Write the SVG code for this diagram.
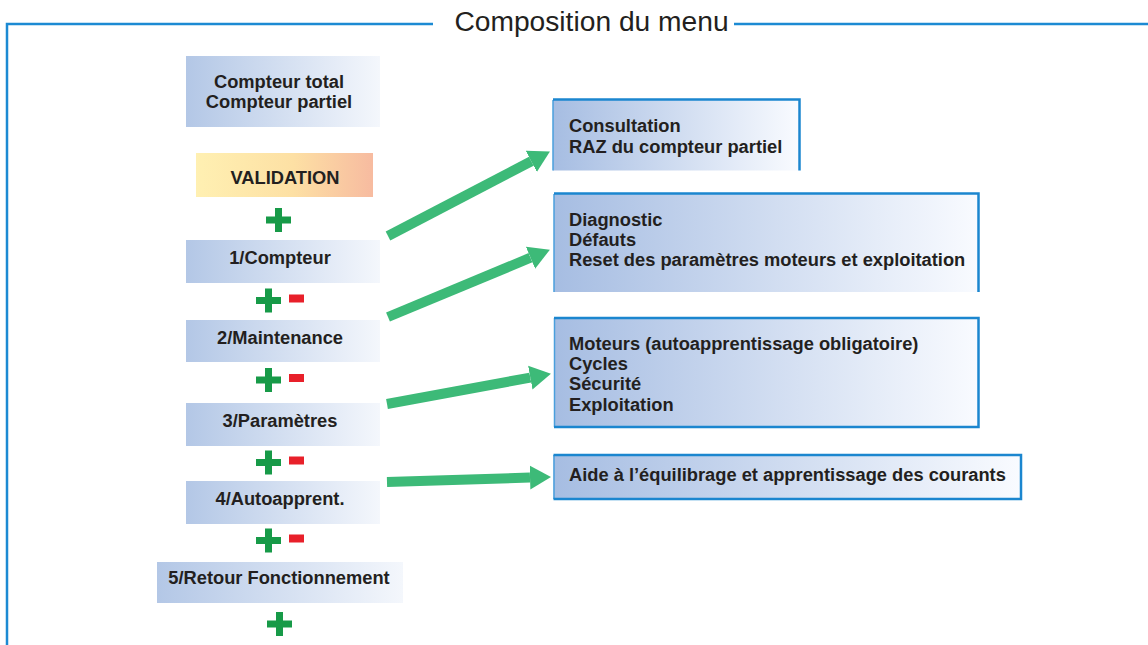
<svg xmlns="http://www.w3.org/2000/svg" width="1148" height="645" viewBox="0 0 1148 645">
<defs>
<linearGradient id="gL" x1="0" y1="0" x2="1" y2="0"><stop offset="0" stop-color="#b3c7e6"/><stop offset="1" stop-color="#f4f7fc"/></linearGradient>
<linearGradient id="gR" x1="0" y1="0" x2="1" y2="0"><stop offset="0" stop-color="#a6bde2"/><stop offset="1" stop-color="#f9fbff"/></linearGradient>
<linearGradient id="gV" x1="0" y1="0" x2="1" y2="0"><stop offset="0" stop-color="#fff0b2"/><stop offset="0.55" stop-color="#fde0a4"/><stop offset="1" stop-color="#f7bba0"/></linearGradient>
<marker id="ah" markerUnits="userSpaceOnUse" markerWidth="22" markerHeight="26" refX="0" refY="12" orient="auto" viewBox="0 0 22 24"><path d="M0,0 L21,12 L0,24 z" fill="#3dba78"/></marker>
<style>
text{font-family:"Liberation Sans",Arial,sans-serif;fill:#231f20}
.b{font-weight:bold;font-size:18.3px}
.t{font-size:28.2px}
.frame{fill:none;stroke:#1c8ad3;stroke-width:2.5}
.bd{fill:none;stroke:#1b86cf;stroke-width:2.5}
.bl{fill:none;stroke:#4a9fdc;stroke-width:1.5}
.arr{stroke:#3dba78;stroke-width:10;fill:none;marker-end:url(#ah)}
.plus{fill:#179a48}
.minus{fill:#e8202a}
</style>
</defs>
<rect width="1148" height="645" fill="#ffffff"/>
<g id="frame">
<path class="frame" d="M7,645 L7,24 L433,24 M734,24 L1148,24"/>
<text class="t" x="591.5" y="31" text-anchor="middle">Composition du menu</text>
</g>
<g id="compteurs"><rect x="186" y="56" width="194" height="71" fill="url(#gL)"/><text class="b" x="279" y="88" text-anchor="middle">Compteur total</text><text class="b" x="279" y="108" text-anchor="middle">Compteur partiel</text></g>
<g id="validation"><rect x="196" y="153" width="177" height="44" fill="url(#gV)"/><text class="b" x="285" y="184" text-anchor="middle">VALIDATION</text></g>
<g id="m1"><rect x="186" y="240" width="194" height="43" fill="url(#gL)"/><text class="b" x="280" y="264" text-anchor="middle">1/Compteur</text></g>
<g id="m2"><rect x="186" y="320" width="194" height="42" fill="url(#gL)"/><text class="b" x="280" y="344" text-anchor="middle">2/Maintenance</text></g>
<g id="m3"><rect x="186" y="403" width="194" height="43" fill="url(#gL)"/><text class="b" x="280" y="427" text-anchor="middle">3/Paramètres</text></g>
<g id="m4"><rect x="186" y="481" width="194" height="43" fill="url(#gL)"/><text class="b" x="280" y="505" text-anchor="middle">4/Autoapprent.</text></g>
<g id="m5"><rect x="157" y="562" width="246" height="41" fill="url(#gL)"/><text class="b" x="279" y="584" text-anchor="middle">5/Retour Fonctionnement</text></g>
<g id="signs">
<g class="plus"><rect x="266" y="216.5" width="25" height="7"/><rect x="275" y="208" width="7" height="24"/></g>
<g class="plus"><rect x="256" y="297" width="25" height="7"/><rect x="265" y="288.5" width="7" height="24"/></g>
<rect class="minus" x="289" y="294.5" width="15" height="8"/>
<g class="plus"><rect x="256" y="376.5" width="25" height="7"/><rect x="265" y="368" width="7" height="24"/></g>
<rect class="minus" x="289" y="374" width="15" height="8"/>
<g class="plus"><rect x="256" y="459" width="25" height="7"/><rect x="265" y="450.5" width="7" height="24"/></g>
<rect class="minus" x="289" y="456.5" width="15" height="8"/>
<g class="plus"><rect x="256" y="537" width="25" height="7"/><rect x="265" y="528.5" width="7" height="24"/></g>
<rect class="minus" x="289" y="534.5" width="15" height="8"/>
<g class="plus"><rect x="267" y="620.5" width="25" height="7"/><rect x="276" y="612" width="7" height="24"/></g>
</g>
<g id="r1"><rect x="553" y="99.5" width="247" height="71" fill="url(#gR)"/><path class="bl" d="M553,170.5 L553,100"/><path class="bd" d="M553,99.5 L799.5,99.5 L799.5,170.5"/><text class="b" x="569" y="132">Consultation</text><text class="b" x="569" y="153">RAZ du compteur partiel</text></g>
<g id="r2"><rect x="554" y="193.5" width="425" height="98.5" fill="url(#gR)"/><path class="bl" d="M554,292 L554,194"/><path class="bd" d="M554,193.5 L978.5,193.5 L978.5,292"/><text class="b" x="569" y="226">Diagnostic</text><text class="b" x="569" y="246">Défauts</text><text class="b" x="569" y="266">Reset des paramètres moteurs et exploitation</text></g>
<g id="r3"><rect x="554" y="318" width="424.5" height="109" fill="url(#gR)"/><path class="bl" d="M554.5,427 L554.5,318"/><path class="bd" d="M554,318 L978.5,318 L978.5,427 L554,427"/><text class="b" x="569" y="349.5">Moteurs (autoapprentissage obligatoire)</text><text class="b" x="569" y="369.5">Cycles</text><text class="b" x="569" y="390">Sécurité</text><text class="b" x="569" y="410.5">Exploitation</text></g>
<g id="r4"><rect x="553.5" y="455" width="467.5" height="44" fill="url(#gR)"/><path class="bl" d="M554,499 L554,455"/><path class="bd" d="M553.5,455 L1021,455 L1021,499 L553.5,499"/><text class="b" x="569" y="481">Aide à l’équilibrage et apprentissage des courants</text></g>
<g id="connectors">
<path class="arr" d="M388,236 L531.3,161.3"/>
<path class="arr" d="M388,317 L530.5,257.7"/>
<path class="arr" d="M387,404 L530.3,377.6"/>
<path class="arr" d="M387,482 L530,477.6"/>
</g>
</svg>
